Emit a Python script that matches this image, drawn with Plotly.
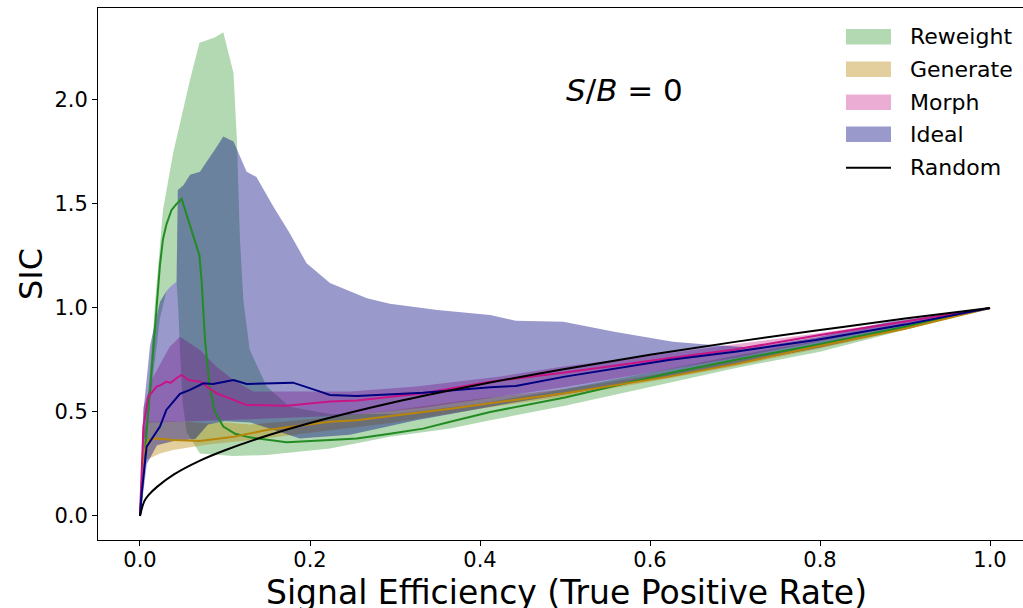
import plotly.graph_objects as go

# ---- Reweight ----
rw_x = [0, 0.004, 0.008, 0.0137, 0.0196, 0.0235, 0.027, 0.031, 0.037, 0.043, 0.049, 0.054,
        0.059, 0.0698, 0.0725, 0.0765, 0.082, 0.088, 0.098, 0.112, 0.129, 0.1726, 0.2235, 0.255,
        0.294, 0.333, 0.365, 0.412, 0.5, 0.622, 0.7, 0.795, 0.9, 1.0]
rw_y = [0, 0.2, 0.42, 0.686, 1.0, 1.207, 1.33, 1.4, 1.47, 1.5, 1.524, 1.46,
        1.39, 1.255, 1.13, 0.846, 0.622, 0.50, 0.43, 0.395, 0.378, 0.354, 0.365, 0.373,
        0.395, 0.42, 0.453, 0.50, 0.57, 0.686, 0.75, 0.822, 0.91, 1.0]
rw_hi_x = [0, 0.004, 0.008, 0.0137, 0.018, 0.0235, 0.027, 0.039, 0.059, 0.070, 0.088, 0.098,
           0.110, 0.114, 0.1176, 0.1216, 0.129, 0.149, 0.176, 0.2235, 0.3, 0.4, 0.5, 0.6,
           0.7, 0.8, 0.9, 1.0]
rw_hi_y = [0, 0.25, 0.5, 0.8, 1.04, 1.3, 1.47, 1.745, 2.10, 2.275, 2.30, 2.325,
           2.13, 1.81, 1.33, 1.04, 0.80, 0.622, 0.525, 0.49, 0.49, 0.54, 0.61, 0.69,
           0.77, 0.845, 0.925, 1.0]
rw_lo_x = [0, 0.004, 0.0118, 0.0235, 0.031, 0.035, 0.043, 0.045, 0.047, 0.05, 0.055, 0.0706,
           0.11, 0.149, 0.2235, 0.294, 0.365, 0.412, 0.5, 0.6, 0.7, 0.8, 0.9, 1.0]
rw_lo_y = [0, 0.2, 0.55, 0.95, 1.08, 1.10, 1.127, 1.0, 0.8, 0.55, 0.4, 0.30,
           0.288, 0.293, 0.325, 0.381, 0.42, 0.46, 0.53, 0.62, 0.71, 0.79, 0.895, 1.0]

# ---- Generate ----
gen_x = [0, 0.004, 0.0098, 0.0196, 0.039, 0.0706, 0.11, 0.149, 0.2235, 0.255, 0.333,
         0.365, 0.412, 0.5, 0.622, 0.7, 0.795, 0.9, 1.0]
gen_y = [0, 0.30, 0.365, 0.373, 0.365, 0.36, 0.381, 0.413, 0.453, 0.46, 0.50,
         0.515, 0.542, 0.59, 0.67, 0.73, 0.814, 0.9, 1.0]
gen_hi_x = [0, 0.004, 0.008, 0.05, 0.08, 0.102, 0.13, 0.2, 0.3, 0.4, 0.5, 0.6, 0.7, 0.8, 0.9, 1.0]
gen_hi_y = [0, 0.4, 0.453, 0.455, 0.445, 0.449, 0.44, 0.465, 0.51, 0.565, 0.61, 0.675, 0.745,
            0.825, 0.91, 1.0]
gen_lo_x = [0, 0.004, 0.0078, 0.0235, 0.039, 0.059, 0.082, 0.12, 0.2, 0.3, 0.4, 0.5, 0.6, 0.7,
            0.8, 0.9, 1.0]
gen_lo_y = [0, 0.2, 0.27, 0.30, 0.317, 0.33, 0.345, 0.36, 0.40, 0.45, 0.515, 0.575, 0.645, 0.72,
            0.805, 0.895, 1.0]

# ---- Morph ----
mor_x = [0, 0.004, 0.0098, 0.0196, 0.025, 0.031, 0.036, 0.042, 0.049, 0.057, 0.0706, 0.09,
         0.11, 0.1255, 0.1726, 0.2235, 0.255, 0.333, 0.412, 0.5, 0.622, 0.7, 0.8, 0.9, 1.0]
mor_y = [0, 0.43, 0.574, 0.622, 0.63, 0.646, 0.64, 0.66, 0.678, 0.654, 0.646, 0.59,
         0.558, 0.534, 0.53, 0.55, 0.555, 0.59, 0.645, 0.69, 0.758, 0.80, 0.87, 0.935, 1.0]
mor_hi_x = [0, 0.004, 0.0157, 0.035, 0.047, 0.0706, 0.09, 0.11, 0.133, 0.2235, 0.247, 0.325,
            0.4235, 0.5, 0.6, 0.7, 0.8, 0.9, 1.0]
mor_hi_y = [0, 0.525, 0.67, 0.814, 0.862, 0.798, 0.718, 0.654, 0.598, 0.598, 0.598, 0.622,
            0.67, 0.72, 0.77, 0.825, 0.88, 0.94, 1.0]
mor_lo_x = [0, 0.004, 0.0098, 0.059, 0.129, 0.2235, 0.247, 0.333, 0.4235, 0.5, 0.6, 0.7, 0.8,
            0.9, 1.0]
mor_lo_y = [0, 0.35, 0.45, 0.455, 0.465, 0.48, 0.486, 0.52, 0.574, 0.62, 0.69, 0.76, 0.84,
            0.92, 1.0]

# ---- Ideal ----
idl_x = [0, 0.002, 0.0078, 0.0157, 0.0235, 0.031, 0.047, 0.0588, 0.0745, 0.086, 0.11, 0.1255,
         0.18, 0.212, 0.2235, 0.255, 0.333, 0.412, 0.442, 0.5, 0.622, 0.7, 0.795, 0.9, 1.0]
idl_y = [0, 0.11, 0.333, 0.381, 0.43, 0.51, 0.587, 0.606, 0.638, 0.635, 0.654, 0.635,
         0.641, 0.598, 0.582, 0.577, 0.593, 0.619, 0.625, 0.67, 0.75, 0.79, 0.846, 0.92, 1.0]
idl_hi_x = [0, 0.004, 0.0118, 0.0235, 0.031, 0.035, 0.043, 0.0445, 0.051, 0.059, 0.0706, 0.078,
            0.088, 0.098, 0.11, 0.1255, 0.137, 0.157, 0.176, 0.196, 0.2235, 0.267, 0.294, 0.35,
            0.412, 0.442, 0.498, 0.558, 0.627, 0.674, 0.72, 0.795, 0.881, 1.0]
idl_hi_y = [0, 0.5, 0.82, 1.03, 1.08, 1.10, 1.127, 1.567, 1.59, 1.64, 1.655, 1.70,
            1.76, 1.824, 1.80, 1.655, 1.63, 1.487, 1.36, 1.215, 1.12, 1.047, 1.02, 0.99,
            0.966, 0.939, 0.934, 0.886, 0.838, 0.822, 0.81, 0.858, 0.934, 1.0]
idl_lo_x = [0, 0.002, 0.008, 0.02, 0.04, 0.065, 0.08, 0.1, 0.13, 0.16, 0.188, 0.247, 0.325,
            0.4235, 0.5, 0.6, 0.7, 0.8, 0.9, 1.0]
idl_lo_y = [0, 0.05, 0.25, 0.34, 0.36, 0.37, 0.44, 0.455, 0.45, 0.41, 0.373, 0.39, 0.46,
            0.534, 0.585, 0.655, 0.73, 0.81, 0.9, 1.0]

# ---- Random classifier ----
rnd_x = [0, 0.005, 0.01, 0.02, 0.04, 0.07, 0.1, 0.15, 0.2, 0.3, 0.4, 0.5, 0.6, 0.7, 0.8, 0.9, 1.0]
rnd_y = [0, 0.07, 0.1, 0.14, 0.2, 0.265, 0.316, 0.387, 0.447, 0.548, 0.632, 0.707, 0.775,
         0.837, 0.894, 0.949, 1.0]

legend_labels = ["Reweight", "Generate", "Morph", "Ideal", "Random"]

FONT = "DejaVu Sans"

fill_colors = ["rgba(0,128,0,0.3)", "rgba(184,134,11,0.4)", "rgba(199,21,133,0.35)",
               "rgba(0,0,128,0.4)"]
line_colors = ["#228b22", "#b8860b", "#c71585", "#000080"]

bands = [
    (rw_hi_x, rw_hi_y, rw_lo_x, rw_lo_y),
    (gen_hi_x, gen_hi_y, gen_lo_x, gen_lo_y),
    (mor_hi_x, mor_hi_y, mor_lo_x, mor_lo_y),
    (idl_hi_x, idl_hi_y, idl_lo_x, idl_lo_y),
]
lines = [(rw_x, rw_y), (gen_x, gen_y), (mor_x, mor_y), (idl_x, idl_y)]

fig = go.Figure()

# shaded uncertainty bands
for (hx, hy, lx, ly), col, name in zip(bands, fill_colors, legend_labels):
    fig.add_trace(go.Scatter(
        x=list(hx) + list(lx)[::-1], y=list(hy) + list(ly)[::-1],
        mode="none", fill="toself", fillcolor=col, name=name,
        hoverinfo="skip", showlegend=False,
    ))

# median curves
for (lx_, ly_), col, name in zip(lines, line_colors, legend_labels):
    fig.add_trace(go.Scatter(x=lx_, y=ly_, mode="lines", line=dict(color=col, width=2),
                             name=name, showlegend=False))

fig.add_trace(go.Scatter(x=rnd_x, y=rnd_y, mode="lines", line=dict(color="black", width=2),
                         name="Random", line_shape="spline", showlegend=False))

# legend drawn as patches + labels in the upper-right corner of the axes
row_px = [36.7, 69.3, 102.3, 134.3, 167.7]
plot_top, plot_bottom, plot_left, plot_width = 8, 540, 98, 925
def px_to_paper_y(py):
    return (plot_bottom - py) / (plot_bottom - plot_top)
def px_to_paper_x(px):
    return (px - plot_left) / plot_width

for i, label in enumerate(legend_labels):
    yc = px_to_paper_y(row_px[i])
    x0, x1 = px_to_paper_x(846), px_to_paper_x(891)
    if i < 4:
        fig.add_shape(type="rect", xref="paper", yref="paper", x0=x0, x1=x1,
                      y0=yc - 7.7 / 532, y1=yc + 7.7 / 532,
                      fillcolor=fill_colors[i], line=dict(width=0))
    else:
        fig.add_shape(type="line", xref="paper", yref="paper", x0=x0, x1=x1, y0=yc, y1=yc,
                      line=dict(color="black", width=2))
    fig.add_annotation(x=px_to_paper_x(908), y=yc, xref="paper", yref="paper", text=label,
                       showarrow=False, xanchor="left", yanchor="middle",
                       font=dict(family=FONT, size=22, color="black"))

fig.add_annotation(x=0.57, y=2.05, xref="x", yref="y", text="<i>S</i>/<i>B</i> = 0",
                   showarrow=False, font=dict(family=FONT, size=31, color="black"))

# axis titles
fig.add_annotation(x=px_to_paper_x(566), y=0, xref="paper", yref="paper",
                   text="Signal Efficiency (True Positive Rate)", showarrow=False,
                   xanchor="center", yanchor="top", yshift=-31,
                   font=dict(family=FONT, size=33, color="black"))
fig.add_annotation(x=0, y=0.5, xref="paper", yref="paper", text="SIC", textangle=-90,
                   showarrow=False, xanchor="center", yanchor="middle", xshift=-67,
                   font=dict(family=FONT, size=32, color="black"))

axis_common = dict(showgrid=False, zeroline=False, showline=True, linecolor="black",
                   linewidth=1, ticks="outside", ticklen=5, tickwidth=1, tickcolor="black",
                   automargin=False,
                   tickfont=dict(family=FONT, size=21, color="black"))

fig.update_xaxes(range=[-0.0494, 1.0388], tickvals=[0, 0.2, 0.4, 0.6, 0.8, 1.0],
                 ticktext=["0.0", "0.2", "0.4", "0.6", "0.8", "1.0"], mirror=True,
                 ticklabelstandoff=-4, **axis_common)
fig.update_yaxes(range=[-0.1154, 2.442], tickvals=[0, 0.5, 1.0, 1.5, 2.0],
                 ticktext=["0.0", "0.5", "1.0", "1.5", "2.0"], **axis_common)

fig.update_layout(
    width=1023, height=608,
    margin=dict(l=98, r=0, t=8, b=68),
    plot_bgcolor="white", paper_bgcolor="white",
    font=dict(family=FONT, color="black"),
    showlegend=False,
)

fig.write_html("out.html")
